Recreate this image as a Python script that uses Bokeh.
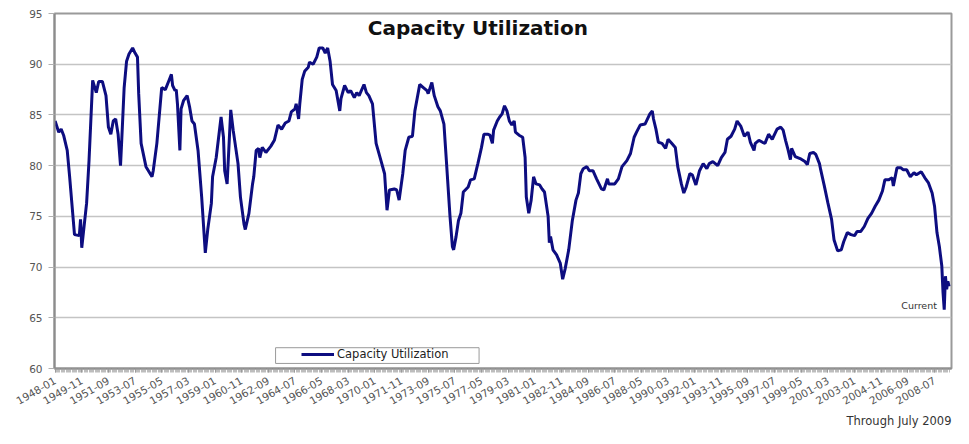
import math
from bokeh.plotting import figure
from bokeh.models import Range1d, FixedTicker, Label, Legend, LegendItem, BoxAnnotation, Title
from bokeh.embed import file_html
from bokeh.resources import INLINE

# months since 1948-01 and capacity utilization (%)
month_idx = [0, 3, 5, 7, 10, 12, 16, 20, 21, 22, 23, 26, 28, 31, 34, 36, 39, 42, 44, 46,
             48, 50, 52, 54, 55, 57, 59, 61, 64, 66, 68, 69, 71, 75, 77, 80, 81, 84, 88, 91,
             94, 96, 97, 99, 100, 101, 103, 104, 106, 109, 111, 113, 115, 118, 121, 124, 126, 129, 130, 133,
             137, 139, 140, 142, 145, 147, 151, 153, 156, 157, 160, 163, 164, 166, 168, 169, 171, 174, 178, 181,
             184, 187, 190, 193, 195, 198, 199, 201, 202, 204, 206, 209, 210, 213, 216, 218, 221, 223, 225, 227,
             229, 232, 235, 236, 239, 242, 244, 247, 249, 251, 255, 257, 259, 262, 265, 269, 272, 274, 276, 280,
             282, 284, 287, 289, 292, 295, 297, 301, 304, 307, 308, 311, 313, 316, 318, 321, 323, 326, 328, 329,
             331, 333, 335, 337, 341, 343, 346, 348, 349, 352, 354, 357, 359, 361, 362, 365, 367, 369, 371, 373,
             375, 377, 379, 380, 383, 386, 388, 389, 391, 393, 395, 397, 400, 402, 404, 407, 408, 409, 411, 414,
             417, 419, 421, 424, 427, 430, 432, 434, 436, 439, 441, 444, 447, 451, 453, 456, 457, 462, 465, 468,
             472, 475, 478, 480, 483, 487, 491, 493, 494, 496, 498, 501, 504, 506, 509, 512, 514, 517, 519, 521,
             524, 526, 529, 532, 535, 538, 540, 543, 547, 550, 553, 555, 558, 561, 563, 566, 569, 572, 574, 577,
             578, 581, 584, 586, 589, 592, 596, 599, 601, 603, 605, 607, 608, 611, 615, 619, 621, 623, 626, 628,
             631, 632, 635, 638, 641, 643, 646, 649, 651, 654, 657, 660, 662, 665, 668, 671, 674, 677, 680, 683,
             685, 688, 691, 692, 695, 698, 700, 703, 706, 709, 711, 715, 718, 721, 724, 726, 728, 730, 732, 733,
             734, 735, 736, 737, 738]
values = [84.4, 83.3, 83.6, 83.0, 81.5, 78.9, 73.2, 73.1, 74.7, 71.9, 73.0, 76.3, 80.5, 88.4, 87.2, 88.3, 88.3, 86.9, 83.8, 83.1,
          84.4, 84.6, 83.1, 80.0, 82.5, 87.7, 90.3, 91.0, 91.6, 91.1, 90.7, 87.1, 82.2, 79.9, 79.5, 78.9, 79.5, 82.2, 87.7, 87.5,
          88.4, 89.0, 87.9, 87.4, 87.5, 86.1, 81.5, 85.6, 86.4, 86.9, 85.8, 84.4, 84.1, 81.5, 76.9, 71.4, 73.7, 76.3, 78.9, 80.8,
          84.8, 82.8, 79.5, 78.2, 85.5, 83.5, 80.2, 76.9, 74.2, 73.7, 75.3, 78.2, 78.9, 81.5, 81.7, 80.8, 81.8, 81.3, 81.9, 82.5,
          84.0, 83.6, 84.2, 84.4, 85.3, 85.6, 86.1, 84.6, 86.1, 88.5, 89.3, 89.7, 90.2, 90.0, 90.7, 91.6, 91.6, 91.1, 91.6, 90.3,
          88.0, 87.4, 85.4, 86.6, 87.9, 87.2, 87.4, 86.7, 87.2, 86.9, 88.0, 87.2, 86.9, 86.1, 82.2, 80.5, 79.2, 75.6, 77.6, 77.7,
          77.6, 76.6, 79.2, 81.5, 82.8, 82.9, 85.4, 88.0, 87.7, 87.4, 87.1, 88.2, 86.9, 85.8, 85.4, 84.1, 80.5, 75.0, 72.0, 71.7,
          73.0, 74.6, 75.3, 77.4, 77.9, 78.6, 78.7, 79.7, 80.2, 81.8, 83.1, 83.1, 83.0, 82.2, 83.5, 84.4, 84.8, 85.1, 85.9, 85.4,
          84.4, 84.0, 84.4, 83.3, 83.0, 82.8, 80.8, 76.9, 75.3, 76.6, 78.9, 78.2, 78.1, 77.7, 77.4, 75.0, 72.4, 73.0, 71.7, 71.2,
          70.4, 68.8, 69.8, 71.7, 74.6, 76.6, 77.3, 79.2, 79.7, 79.9, 79.5, 79.5, 78.7, 77.7, 77.6, 78.7, 78.2, 78.2, 78.7, 79.9,
          80.5, 81.2, 82.8, 83.3, 84.0, 84.1, 85.1, 85.4, 84.6, 83.6, 82.3, 82.2, 81.7, 82.6, 82.2, 81.8, 79.9, 78.2, 77.3, 77.9,
          79.2, 79.1, 78.1, 79.5, 80.2, 79.7, 80.2, 80.4, 80.0, 80.8, 81.3, 82.6, 82.9, 83.6, 84.4, 83.9, 82.9, 83.3, 82.3, 81.5,
          82.2, 82.5, 82.3, 82.2, 83.1, 82.6, 83.6, 83.8, 83.5, 82.5, 81.6, 80.6, 81.7, 80.9, 80.7, 80.4, 80.1, 81.2, 81.3, 81.1,
          80.2, 79.6, 78.0, 76.3, 74.7, 72.7, 71.6, 71.7, 72.5, 73.4, 73.2, 73.1, 73.5, 73.5, 74.0, 74.8, 75.3, 76.0, 76.6, 77.5,
          78.6, 78.6, 78.8, 78.0, 79.8, 79.8, 79.6, 79.6, 78.9, 79.3, 79.1, 79.4, 78.8, 78.3, 77.3, 76.0, 73.4, 72.0, 70.1, 67.5,
          65.8, 69.1, 67.8, 68.6, 68.1]

tick_labels = ["1948-01", "1949-11", "1951-09", "1953-07", "1955-05", "1957-03", "1959-01", "1960-11",
               "1962-09", "1964-07", "1966-05", "1968-03", "1970-01", "1971-11", "1973-09", "1975-07",
               "1977-05", "1979-03", "1981-01", "1982-11", "1984-09", "1986-07", "1988-05", "1990-03",
               "1992-01", "1993-11", "1995-09", "1997-07", "1999-05", "2001-03", "2003-01", "2004-11",
               "2006-09", "2008-07"]
y_ticks = [60, 65, 70, 75, 80, 85, 90, 95]
n_months = 739
label_step = 22

FONT = "DejaVu Sans"
AX = "#8c8c8c"

p = figure(width=953, height=428, output_backend="svg", toolbar_location=None,
           x_range=Range1d(-0.5, 740), y_range=Range1d(60, 95),
           min_border_left=54, min_border_right=2, min_border_top=13, min_border_bottom=59)
p.background_fill_color = "white"
p.border_fill_color = "white"
p.outline_line_color = "#9a9a9a"
p.outline_line_width = 2

r = p.line(month_idx, values, line_color="#0d0d80", line_width=3)

xa = p.xaxis[0]
xa.ticker = FixedTicker(ticks=[label_step * i for i in range(len(tick_labels))],
                        minor_ticks=list(range(0, n_months)))
xa.major_label_overrides = {label_step * i: lab for i, lab in enumerate(tick_labels)}
xa.major_label_orientation = math.pi / 6
xa.major_label_text_font = FONT
xa.major_label_text_font_size = "10.5px"
xa.major_label_text_color = "#555555"
xa.major_label_standoff = 7
xa.axis_line_color = AX
xa.axis_line_width = 2
xa.major_tick_in = 0
xa.major_tick_out = 4
xa.major_tick_line_color = AX
xa.minor_tick_in = 0
xa.minor_tick_out = 4
xa.minor_tick_line_color = "#a0a0a0"
xa.minor_tick_line_width = 0.7

ya = p.yaxis[0]
ya.ticker = FixedTicker(ticks=y_ticks)
ya.major_label_text_font = FONT
ya.major_label_text_font_size = "10.5px"
ya.major_label_text_color = "#555555"
ya.major_label_standoff = 6
ya.axis_line_color = AX
ya.axis_line_width = 2
ya.major_tick_in = 0
ya.major_tick_out = 6
ya.major_tick_line_color = "#b0b0b0"
ya.minor_tick_line_color = None

p.xgrid.visible = False
p.ygrid.grid_line_color = "#c4c4c4"
p.ygrid.grid_line_width = 1.5

p.add_layout(Label(x=349, y=93.57, text="Capacity Utilization", text_align="center",
                   text_baseline="middle", text_font=FONT, text_font_style="bold",
                   text_font_size="20px", text_color="#111111"))
p.add_layout(Label(x=728, y=66.2, text="Current", text_align="right", text_baseline="middle",
                   text_font=FONT, text_font_size="9.5px", text_color="#333333"))

p.add_layout(BoxAnnotation(left=182, right=350, bottom=60.5, top=62.05,
                           fill_color="white", fill_alpha=1.0, line_color="#9a9a9a",
                           line_width=1, line_alpha=1.0))
leg = Legend(items=[LegendItem(label="Capacity Utilization", renderers=[r])],
             location=(245, 5), border_line_alpha=0, background_fill_alpha=0,
             padding=2, margin=0, glyph_width=33, glyph_height=12, label_height=12,
             label_standoff=3, label_text_font=FONT, label_text_font_size="11.5px",
             label_text_color="#222222")
p.add_layout(leg)

p.add_layout(Title(text="Through July 2009", align="right", text_font=FONT,
                   text_font_size="11.5px", text_font_style="normal", text_color="#333333",
                   standoff=1), "below")

open("out.html", "w").write(file_html(p, INLINE))
